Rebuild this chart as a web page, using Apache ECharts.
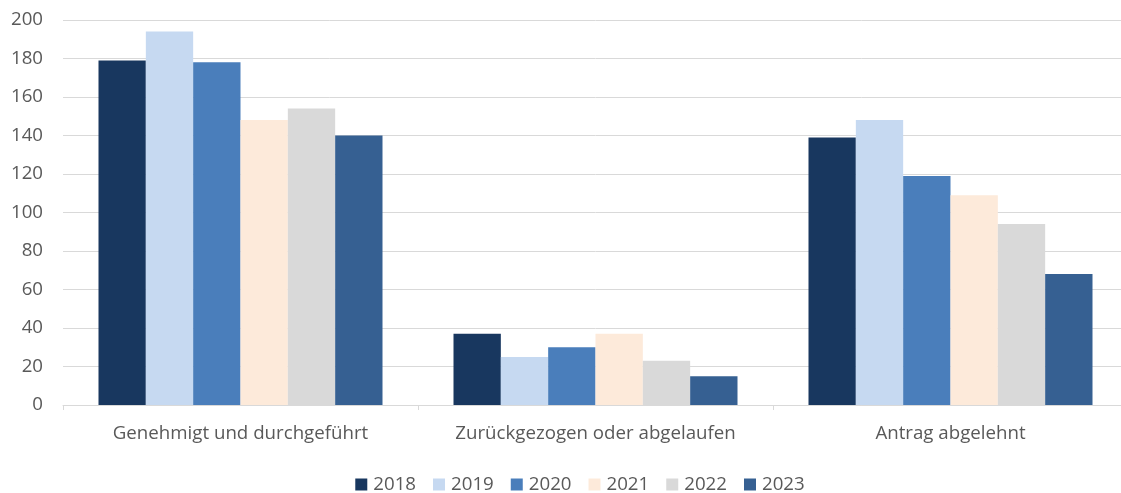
<!DOCTYPE html>
<html><head><meta charset="utf-8">
<script src="https://cdn.jsdelivr.net/npm/echarts@6/dist/echarts.min.js"></script>
<style>html,body{margin:0;padding:0;background:#fff;overflow:hidden}#c{width:1160px;height:493px}</style>
</head><body><div id="c"></div>
<script>
const categories = ["Genehmigt und durchgeführt", "Zurückgezogen oder abgelaufen", "Antrag abgelehnt"];
const years = ["2018", "2019", "2020", "2021", "2022", "2023"];
const v2018 = [179, 37, 139];
const v2019 = [194, 25, 148];
const v2020 = [178, 30, 119];
const v2021 = [148, 37, 109];
const v2022 = [154, 23, 94];
const v2023 = [140, 15, 68];
const yTicks = [0, 20, 40, 60, 80, 100, 120, 140, 160, 180, 200];
const colors = ["#18375F", "#C6D9F1", "#4A7EBB", "#FDEADA", "#D9D9D9", "#366092"];
const seriesValues = [v2018, v2019, v2020, v2021, v2022, v2023];

const font = "'Open Sans', Lato, sans-serif";
const chart = echarts.init(document.getElementById('c'));
chart.setOption({
  animation: false,
  color: colors,
  textStyle: { fontFamily: font },
  grid: { left: 63, right: 32, top: 20, bottom: 88, containLabel: false },
  legend: {
    top: 470, left: 'center', itemWidth: 12, itemHeight: 12, itemGap: 17,
    icon: 'rect',
    textStyle: { fontSize: 18.7, color: '#595959', fontFamily: font, padding: [0, 0, 0, 1] },
    data: years
  },
  xAxis: {
    type: 'category', data: categories,
    axisLine: { lineStyle: { color: '#D9D9D9', width: 1 } },
    axisTick: { show: true, length: 5, interval: 0, lineStyle: { color: '#D9D9D9' } },
    axisLabel: { fontSize: 18.7, color: '#595959', margin: 19, interval: 0, fontFamily: font },
    axisPointer: { show: false }
  },
  yAxis: {
    type: 'value', min: 0, max: 200, interval: 20,
    axisLine: { show: false }, axisTick: { show: false },
    axisLabel: { fontSize: 18.7, color: '#595959', margin: 20, fontFamily: font,
      formatter: v => yTicks.includes(v) ? String(v) : '' },
    splitLine: { lineStyle: { color: '#D9D9D9', width: 1 } }
  },
  series: years.map((y, i) => ({
    name: y, type: 'bar', data: seriesValues[i],
    barGap: '0%', barCategoryGap: '20%'
  }))
});
</script></body></html>
